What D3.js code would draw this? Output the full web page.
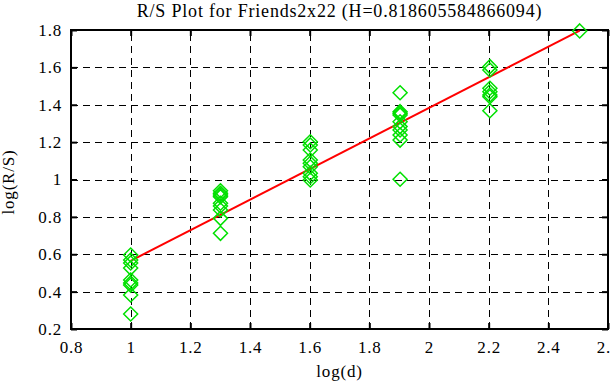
<!DOCTYPE html>
<html lang="en">
<head>
<meta charset="utf-8">
<title>R/S Plot</title>
<script src="https://d3js.org/d3.v7.min.js"></script>
<style>
  body { margin: 0; background: #fff; }
  text { font-family: "Liberation Serif", "DejaVu Serif", serif; fill: #000; }
</style>
</head>
<body>
<div id="chart"></div>
<script>
// log(d) for each block size, and the log(R/S) values read at each one
var logD = [1, 1.30103, 1.60206, 1.90309, 2.20412, 2.50515];
var rs1 = [0.596, 0.569, 0.553, 0.526, 0.462, 0.446, 0.435, 0.382, 0.280];
var rs2 = [0.940, 0.926, 0.917, 0.908, 0.873, 0.858, 0.837, 0.792, 0.712];
var rs3 = [1.202, 1.185, 1.158, 1.104, 1.087, 1.068, 1.033, 1.015, 0.997];
var rs4 = [1.464, 1.363, 1.354, 1.345, 1.309, 1.283, 1.265, 1.238, 1.211, 1.001];
var rs5 = [1.604, 1.586, 1.488, 1.470, 1.452, 1.443, 1.368];
var rs6 = [1.795];
var H = 0.818605584866094;
var fitX = [1, 2.50515];
var fitIntercept = -0.2536;
var xTicks = [0.8, 1, 1.2, 1.4, 1.6, 1.8, 2, 2.2, 2.4, 2.6];
var yTicks = [0.2, 0.4, 0.6, 0.8, 1, 1.2, 1.4, 1.6, 1.8];

var w = 611, h = 385;
var plotL = 71, plotR = 608, plotT = 30, plotB = 329;

var svg = d3.select("#chart").append("svg")
  .attr("width", w).attr("height", h);

var xScale = d3.scaleLinear().domain([0.8, 2.6]).range([plotL, plotR]);
var yScale = d3.scaleLinear().domain([0.2, 1.8]).range([plotB, plotT]);

var points = [];
[rs1, rs2, rs3, rs4, rs5, rs6].forEach(function(arr, i) {
  arr.forEach(function(v) { points.push({x: logD[i], y: v}); });
});

// grid
var grid = svg.append("g").attr("stroke", "#000").attr("stroke-width", 1)
  .attr("stroke-dasharray", "7,5").attr("shape-rendering", "crispEdges");
grid.selectAll(".gx").data(xTicks.slice(1, -1)).enter().append("line")
  .attr("x1", d => Math.round(xScale(d)) + 0.5).attr("x2", d => Math.round(xScale(d)) + 0.5)
  .attr("y1", plotB).attr("y2", plotT);
grid.selectAll(".gy").data(yTicks.slice(1, -1)).enter().append("line")
  .attr("y1", d => Math.round(yScale(d)) + 0.5).attr("y2", d => Math.round(yScale(d)) + 0.5)
  .attr("x1", plotL).attr("x2", plotR);

// axes with inward ticks on all four sides
function styleAxis(g) {
  g.select(".domain").remove();
  g.selectAll(".tick line").attr("stroke", "#000").attr("stroke-width", 2);
  g.selectAll(".tick text").style("font-size", "17px").style("letter-spacing", "0.8px")
    .style("font-family", "'Liberation Serif', serif").attr("fill", "#000");
}
svg.append("g").attr("transform", "translate(0," + plotB + ")")
  .call(d3.axisBottom(xScale).tickValues(xTicks).tickSize(-6).tickPadding(12)
    .tickFormat(d3.format("")))
  .call(styleAxis);
svg.append("g").attr("transform", "translate(0," + plotT + ")")
  .call(d3.axisTop(xScale).tickValues(xTicks).tickSize(-6).tickFormat(""))
  .call(styleAxis);
svg.append("g").attr("transform", "translate(" + plotL + ",0)")
  .call(d3.axisLeft(yScale).tickValues(yTicks).tickSize(-6).tickPadding(9)
    .tickFormat(d3.format("")))
  .call(styleAxis);
svg.append("g").attr("transform", "translate(" + plotR + ",0)")
  .call(d3.axisRight(yScale).tickValues(yTicks).tickSize(-6).tickFormat(""))
  .call(styleAxis);

svg.append("rect").attr("x", plotL).attr("y", plotT)
  .attr("width", plotR - plotL).attr("height", plotB - plotT)
  .attr("fill", "none").attr("stroke", "#000").attr("stroke-width", 2);

// fit line
svg.append("line")
  .attr("x1", xScale(fitX[0])).attr("y1", yScale(H * fitX[0] + fitIntercept))
  .attr("x2", xScale(fitX[1])).attr("y2", yScale(H * fitX[1] + fitIntercept))
  .attr("stroke", "#ff0000").attr("stroke-width", 2);

// diamonds
var r = 7;
svg.selectAll(".pt").data(points).enter().append("path")
  .attr("d", function(d) {
    var cx = xScale(d.x), cy = yScale(d.y);
    return "M" + cx + "," + (cy - r) + "L" + (cx + r) + "," + cy +
      "L" + cx + "," + (cy + r) + "L" + (cx - r) + "," + cy + "Z";
  })
  .attr("fill", "none").attr("stroke", "#00e000").attr("stroke-width", 1.5);

// labels
svg.append("text").attr("x", (plotL + plotR) / 2).attr("y", 17)
  .attr("text-anchor", "middle").style("font-size", "18px").style("letter-spacing", "0.8px")
  .text("R/S Plot for Friends2x22 (H=" + H + ")");
svg.append("text").attr("x", (plotL + plotR) / 2).attr("y", 377)
  .attr("text-anchor", "middle").style("font-size", "17px").style("letter-spacing", "0.8px")
  .text("log(d)");
svg.append("text").attr("transform", "translate(14,182) rotate(-90)")
  .attr("text-anchor", "middle").style("font-size", "17px").style("letter-spacing", "0.8px")
  .text("log(R/S)");
</script>
</body>
</html>
